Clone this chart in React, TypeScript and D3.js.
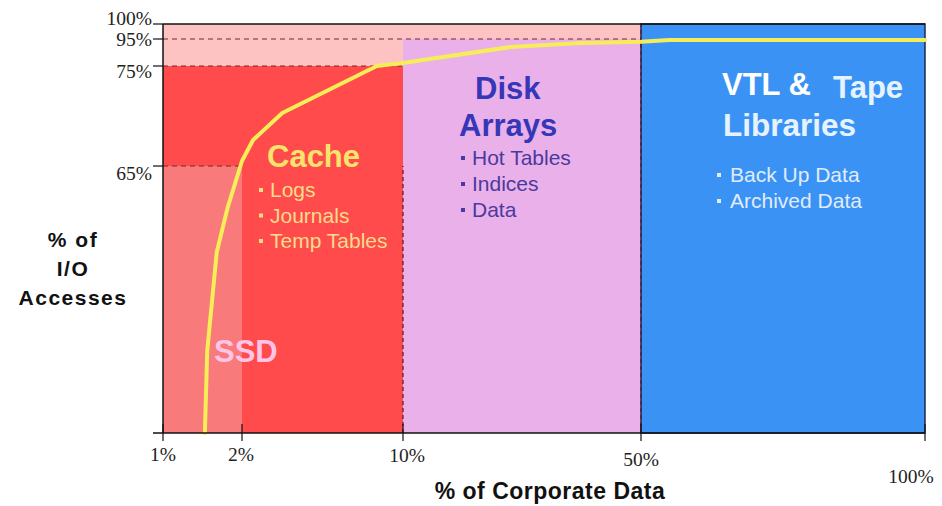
import React from "react";
import * as d3 from "d3";

// ---- data ----
const xTickValues = [1, 2, 10, 50, 100];
const xTickLabels = ["1%", "2%", "10%", "50%", "100%"];
const yTickValues = [65, 75, 95, 100];
const yTickLabels = ["65%", "75%", "95%", "100%"];

const curveX = [1.53, 1.56, 1.62, 1.68, 1.82, 2.0, 2.55, 4.0, 8.7, 9.9, 28, 40, 50, 55, 100];
const curveY = [0, 20, 32, 44, 55, 65.5, 67.6, 70.3, 75, 77, 89, 92, 93, 94.3, 94.3];

const zoneNames = ["topWide", "topCache", "cache", "ssd", "disk", "tape"];
const zoneX0 = [1, 1, 1, 1, 10, 50];
const zoneX1 = [50, 10, 10, 2, 50, 100];
const zoneY0 = [95, 75, 0, 0, 0, 0];
const zoneY1 = [100, 95, 75, 65, 95, 100];

const hGuideY = [95, 75, 65];
const hGuideX1 = [50, 10, 2];
const vGuideX = [10, 50];
const vGuideY1 = [65, 100];

const cacheItems = ["Logs", "Journals", "Temp Tables"];
const diskItems = ["Hot Tables", "Indices", "Data"];
const tapeItems = ["Back Up Data", "Archived Data"];

// ---- layout / style ----
const W = 942;
const H = 506;
const zoneFill: Record<string, string> = {
  topWide: "#fdc3c3",
  topCache: "#fdc3c3",
  cache: "#ff4b4b",
  ssd: "#f87a7a",
  disk: "#e9b0e9",
  tape: "#3a93f4",
};

const x = d3.scaleLinear().domain(xTickValues).range([163, 242, 403, 641, 925]);
const y = d3.scaleLinear().domain([0, 65, 75, 95, 100]).range([433, 166, 66, 39, 24]);

const xLabelNudge = [
  { dx: 0, y: 461 },
  { dx: -1, y: 461 },
  { dx: 4, y: 462 },
  { dx: 0, y: 466 },
  { dx: -14, y: 483 },
];
const yLabelNudge = [14, 12, 7, 1];

const sans = "'Liberation Sans', Arial, sans-serif";
const serif = "'Liberation Serif', 'Times New Roman', serif";

export default function App() {
  const line = d3
    .line<number>()
    .x((_, i) => x(curveX[i]))
    .y((_, i) => y(curveY[i]))
    .curve(d3.curveLinear);
  const path = line(curveX) || "";

  const bullet = (bx: number, by: number, color: string, key: string) => (
    <rect key={key} x={bx} y={by - 9} width={4} height={4} fill={color} />
  );

  return (
    <svg
      width={W}
      height={H}
      style={{ position: "absolute", left: 0, top: 0, background: "#fff" }}
      fontFamily={sans}
    >
      <rect x={0} y={0} width={W} height={H} fill="#fff" />
      {zoneNames.map((z, i) => (
        <rect
          key={z}
          x={x(zoneX0[i])}
          y={y(zoneY1[i])}
          width={x(zoneX1[i]) - x(zoneX0[i])}
          height={y(zoneY0[i]) - y(zoneY1[i])}
          fill={zoneFill[z]}
          stroke={z === "tape" ? "#1c2850" : "none"}
          strokeWidth={z === "tape" ? 1.5 : 0}
        />
      ))}

      {hGuideY.map((v, i) => (
        <line
          key={"h" + i}
          x1={x(1)}
          x2={x(hGuideX1[i])}
          y1={y(v)}
          y2={y(v)}
          stroke="#7a2626"
          strokeWidth={1}
          strokeDasharray="5,4"
        />
      ))}
      {vGuideX.map((v, i) => (
        <line
          key={"v" + i}
          x1={x(v)}
          x2={x(v)}
          y1={y(0)}
          y2={y(vGuideY1[i])}
          stroke="#5a1a2a"
          strokeWidth={1.2}
          strokeDasharray="4,3"
        />
      ))}

      {/* top frame */}
      <line x1={x(1)} x2={x(100)} y1={y(100)} y2={y(100)} stroke="#111" strokeWidth={1.5} />

      {/* curve */}
      <path d={path} fill="none" stroke="#f6ee58" strokeWidth={4} strokeLinejoin="round" strokeLinecap="round" />

      {/* axes */}
      <line x1={x(1)} x2={x(1)} y1={y(100)} y2={y(0)} stroke="#111" strokeWidth={1.5} />
      <line x1={x(1) - 10} x2={x(100)} y1={y(0)} y2={y(0)} stroke="#111" strokeWidth={1.5} />
      {xTickValues.map((v, i) => (
        <g key={"xt" + i}>
          <line x1={x(v)} x2={x(v)} y1={y(0) - 9} y2={y(0) + 8} stroke="#111" strokeWidth={1.2} />
          <text
            x={x(v) + xLabelNudge[i].dx}
            y={xLabelNudge[i].y}
            textAnchor="middle"
            fontFamily={serif}
            fontSize={19.5}
            fill="#222"
          >
            {xTickLabels[i]}
          </text>
        </g>
      ))}
      {yTickValues.map((v, i) => (
        <g key={"yt" + i}>
          <line x1={x(1) - 10} x2={x(1)} y1={y(v)} y2={y(v)} stroke="#111" strokeWidth={1.2} />
          <text
            x={x(1) - 11}
            y={y(v) + yLabelNudge[i]}
            textAnchor="end"
            fontFamily={serif}
            fontSize={19.5}
            fill="#222"
          >
            {yTickLabels[i]}
          </text>
        </g>
      ))}

      {/* axis titles */}
      <text x={550} y={499} textAnchor="middle" fontSize={23} fontWeight="bold" fill="#111" letterSpacing={0.5}>
        % of Corporate Data
      </text>
      <g fontSize={21} fontWeight="bold" fill="#111" textAnchor="middle" letterSpacing={1.5}>
        <text x={73} y={247}>% of</text>
        <text x={73} y={276}>I/O</text>
        <text x={73} y={305}>Accesses</text>
      </g>

      {/* Cache */}
      <text x={267} y={167} fontSize={31} fontWeight="bold" fill="#f7e46c">Cache</text>
      {cacheItems.map((t, i) => (
        <g key={"c" + i}>
          {bullet(259, 197 + i * 25.5, "#f7dd88", "cb" + i)}
          <text x={270} y={197 + i * 25.5} fontSize={21} fill="#f8dc8c">{t}</text>
        </g>
      ))}

      {/* SSD */}
      <text x={214} y={362} fontSize={31} fontWeight="bold" fill="#ffc4e6">SSD</text>

      {/* Disk Arrays */}
      <text x={475} y={99} fontSize={31} fontWeight="bold" fill="#3636b8">Disk</text>
      <text x={459} y={136} fontSize={31} fontWeight="bold" fill="#3636b8">Arrays</text>
      {diskItems.map((t, i) => (
        <g key={"d" + i}>
          {bullet(461, 165 + i * 26, "#4b3a9e", "db" + i)}
          <text x={472} y={165 + i * 26} fontSize={21} fill="#4b3a9e">{t}</text>
        </g>
      ))}

      {/* Tape */}
      <text x={722} y={95} fontSize={31} fontWeight="bold" fill="#ffffff">VTL &amp;</text>
      <text x={833} y={98} fontSize={31} fontWeight="bold" fill="#e6f3ff">Tape</text>
      <text x={723} y={136} fontSize={31.5} fontWeight="bold" fill="#e6f3ff">Libraries</text>
      {tapeItems.map((t, i) => (
        <g key={"t" + i}>
          {bullet(717, 182 + i * 26, "#e0ecfc", "tb" + i)}
          <text x={730} y={182 + i * 26} fontSize={21} fill="#e0ecfc">{t}</text>
        </g>
      ))}
    </svg>
  );
}
